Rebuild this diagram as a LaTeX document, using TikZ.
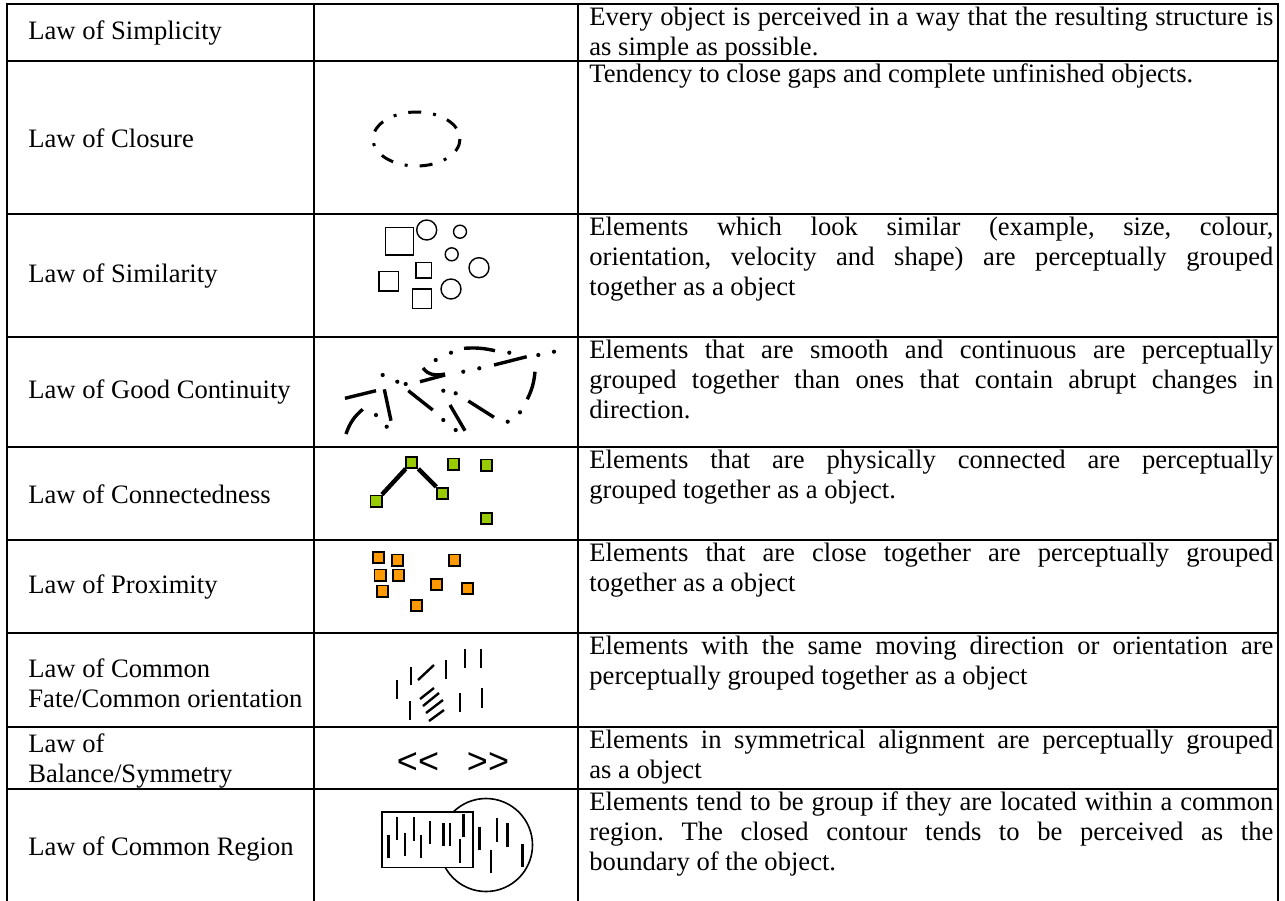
\documentclass[tikz,border=0pt]{standalone}
\usepackage{fontspec}
\setmainfont{Liberation Serif}
\newfontfamily\signfont{Liberation Sans}
\definecolor{leafgreen}{HTML}{99CC00}
\definecolor{amber}{HTML}{FF9900}
\frenchspacing
\tikzset{
  rule/.style={line width=1pt, line cap=rect},
  lawname/.style={anchor=west, align=left, inner sep=0pt},
  lawtext/.style={anchor=north west, text width=342pt, align=justify, inner sep=0pt},
  dashring/.style={line width=1.5pt, dash pattern=on 6.5pt off 6pt on 1.5pt off 6pt},
  outline/.style={draw, line width=0.7pt},
  stroke/.style={line width=1.7pt},
  speck/.style={fill=black},
  tick/.style={line width=1.2pt},
  greenbox/.style={draw, fill=leafgreen, line width=0.9pt, minimum size=5.6pt, inner sep=0pt},
  orangebox/.style={draw, fill=amber, line width=0.9pt, minimum size=5.6pt, inner sep=0pt},
  link/.style={line width=2.2pt},
  hair/.style={line width=0.8pt}
}
\begin{document}
\begin{tikzpicture}[x=0.5pt, y=-0.5pt, font=\fontsize{13.3}{15}\selectfont]
  \useasboundingbox (0,0) rectangle (1285,900);

  % table rules
  \draw[rule] (7,4) -- (1278,4);
  \draw[rule] (7,61) -- (1278,61);
  \draw[rule] (7,214) -- (1278,214);
  \draw[rule] (7,337) -- (1278,337);
  \draw[rule] (7,447) -- (1278,447);
  \draw[rule] (7,540) -- (1278,540);
  \draw[rule] (7,633) -- (1278,633);
  \draw[rule] (7,727) -- (1278,727);
  \draw[rule] (7,789) -- (1278,789);
  \draw[rule] (7,4) -- (7,900);
  \draw[rule] (314,4) -- (314,900);
  \draw[rule] (578,4) -- (578,900);
  \draw[rule] (1278,4) -- (1278,900);

  % law names
  \node[lawname] (simplicity) at (28,33) {Law of Simplicity};
  \node[lawname] (closure) at (28,138) {Law of Closure};
  \node[lawname] (similarity) at (28,276) {Law of Similarity};
  \node[lawname] (continuity) at (28,392) {Law of Good Continuity};
  \node[lawname] (connectedness) at (28,494) {Law of Connectedness};
  \node[lawname] (proximity) at (28,587) {Law of Proximity};
  \node[lawname] (fate) at (28,683) {Law of Common\\Fate/Common orientation};
  \node[lawname] (symmetry) at (28,761) {Law of\\Balance/Symmetry};
  \node[lawname] (region) at (28,849) {Law of Common Region};

  % descriptions
  \node[lawtext] (simplicitytext) at (589,4) {\strut Every object is perceived in a way that the resulting structure is\linebreak as simple as possible.};
  \node[lawtext] (closuretext) at (589,61) {\strut Tendency to close gaps and complete unfinished objects.};
  \node[lawtext] (similaritytext) at (589,214) {\strut Elements which look similar (example, size, colour,\linebreak orientation, velocity and shape) are perceptually grouped\linebreak together as a object};
  \node[lawtext] (continuitytext) at (589,337) {\strut Elements that are smooth and continuous are perceptually\linebreak grouped together than ones that contain abrupt changes in\linebreak direction.};
  \node[lawtext] (connectednesstext) at (589,447) {\strut Elements that are physically connected are perceptually\linebreak grouped together as a object.};
  \node[lawtext] (proximitytext) at (589,540) {\strut Elements that are close together are perceptually grouped\linebreak together as a object};
  \node[lawtext] (fatetext) at (589,633) {\strut Elements with the same moving direction or orientation are\linebreak perceptually grouped together as a object};
  \node[lawtext] (symmetrytext) at (589,727) {\strut Elements in symmetrical alignment are perceptually grouped\linebreak as a object};
  \node[lawtext] (regiontext) at (589,789) {\strut Elements tend to be group if they are located within a common\linebreak region. The closed contour tends to be perceived as the\linebreak boundary of the object.};

  % closure
  \draw[dashring] (416.5,139) ellipse (43.5 and 27);

  % similarity
  \draw[outline] (385.7,227.3) rectangle +(27.6,27.6);
  \draw[outline] (416,262.3) rectangle +(15.6,15.6);
  \draw[outline] (379,271.7) rectangle +(19.3,19.3);
  \draw[outline] (412.3,289) rectangle +(19.3,19.3);
  \draw[outline] (426.7,230) circle (10);
  \draw[outline] (460,231.7) circle (6.5);
  \draw[outline] (451.7,254.3) circle (6.5);
  \draw[outline] (479,267.7) circle (10);
  \draw[outline] (451,289) circle (10);

  % good continuity
  \draw[stroke] (346,434) to[bend left=15] (362.7,409.3);
  \draw[stroke] (345,398.3) -- (376,390.7);
  \draw[stroke] (384.3,389.3) -- (391,420.7);
  \draw[stroke] (408.3,390.7) -- (432.7,410);
  \draw[stroke] (420,381.7) -- (445,375);
  \draw[stroke] (423,368) .. controls (428,375) and (436,376) .. (445,374);
  \draw[stroke] (450,405) -- (465,430.7);
  \draw[stroke] (468.3,401) -- (494,417.3);
  \draw[stroke] (464,348.3) to[bend left=8] (495,350.7);
  \draw[stroke] (494,365) -- (526.7,356.7);
  \draw[stroke] (535,371.7) to[bend left=10] (527.3,399.3);
  \fill[speck] (382.7,375) circle (2.1);
  \fill[speck] (397.3,381.7) circle (2.1);
  \fill[speck] (405.7,384) circle (2.1);
  \fill[speck] (376,415) circle (2.1);
  \fill[speck] (386.7,426.7) circle (2.1);
  \fill[speck] (435.7,360) circle (2.1);
  \fill[speck] (451,352.7) circle (2.1);
  \fill[speck] (443.3,390.7) circle (2.1);
  \fill[speck] (455.7,393.3) circle (2.1);
  \fill[speck] (443.3,420) circle (2.1);
  \fill[speck] (455.7,430) circle (2.1);
  \fill[speck] (463.3,371.7) circle (2.1);
  \fill[speck] (479.3,368.3) circle (2.1);
  \fill[speck] (509.3,352.7) circle (2.1);
  \fill[speck] (538.3,355) circle (2.1);
  \fill[speck] (554,351.7) circle (2.1);
  \fill[speck] (520,412.3) circle (2.1);
  \fill[speck] (507.7,421.7) circle (2.1);

  % connectedness
  \node[greenbox] (g1) at (376,501) {};
  \node[greenbox] (g2) at (411.7,462.3) {};
  \node[greenbox] (g3) at (442.7,493.3) {};
  \node[greenbox] (g4) at (453.3,464) {};
  \node[greenbox] (g5) at (486.7,465) {};
  \node[greenbox] (g6) at (486.7,518.3) {};
  \draw[link] (g1) -- (g2);
  \draw[link] (g2) -- (g3);

  % proximity
  \node[orangebox] (o1) at (378.3,557.7) {};
  \node[orangebox] (o2) at (397.3,560) {};
  \node[orangebox] (o3) at (454.3,560) {};
  \node[orangebox] (o4) at (380,575) {};
  \node[orangebox] (o5) at (398.3,575) {};
  \node[orangebox] (o6) at (436.7,584.3) {};
  \node[orangebox] (o7) at (467.7,588.3) {};
  \node[orangebox] (o8) at (382.7,591) {};
  \node[orangebox] (o9) at (416.7,605.7) {};

  % common fate
  \draw[tick] (396.7,680) -- (396.7,699);
  \draw[tick] (410.7,667) -- (410.7,685);
  \draw[tick] (445.7,660) -- (445.7,679);
  \draw[tick] (465,649) -- (465,668);
  \draw[tick] (480.7,649) -- (480.7,668);
  \draw[tick] (410,701) -- (410,720);
  \draw[tick] (460,693) -- (460,712);
  \draw[tick] (481.7,688) -- (481.7,708);
  \draw[tick] (418,680) -- (434,665);
  \draw[tick] (420,699) -- (434,688);
  \draw[tick] (423,706) -- (439,693);
  \draw[tick] (426,713) -- (443,700);
  \draw[tick] (429,721) -- (444,710);

  % balance
  \node[font=\signfont\fontsize{18}{18}\selectfont] (leftmarks) at (418,763) {<<};
  \node[font=\signfont\fontsize{18}{18}\selectfont] (rightmarks) at (488,763) {>>};

  % common region
  \draw[hair] (486,845) circle (46.5);
  \draw[hair, fill=white] (381.7,811.7) rectangle (472.7,867.3);
  \draw[tick] (396.7,816.7) -- (396.7,840);
  \draw[tick] (388.3,835) -- (388.3,858.3);
  \draw[tick] (405,832.7) -- (405,856);
  \draw[tick] (414,817.3) -- (414,840.7);
  \draw[tick] (420.7,835) -- (420.7,858.3);
  \draw[tick] (430,820.7) -- (430,844);
  \draw[tick] (443.3,822.7) -- (443.3,846);
  \draw[tick] (450,822.7) -- (450,846);
  \draw[tick] (463.3,814) -- (463.3,837.3);
  \draw[tick] (460,839.3) -- (460,863.3);
  \draw[tick] (479.3,826.7) -- (479.3,850);
  \draw[tick] (491,850) -- (491,873.3);
  \draw[tick] (496.7,818.3) -- (496.7,841.7);
  \draw[tick] (507.3,823.3) -- (507.3,846.7);
  \draw[tick] (522.3,844) -- (522.3,867.3);
\end{tikzpicture}
\end{document}
